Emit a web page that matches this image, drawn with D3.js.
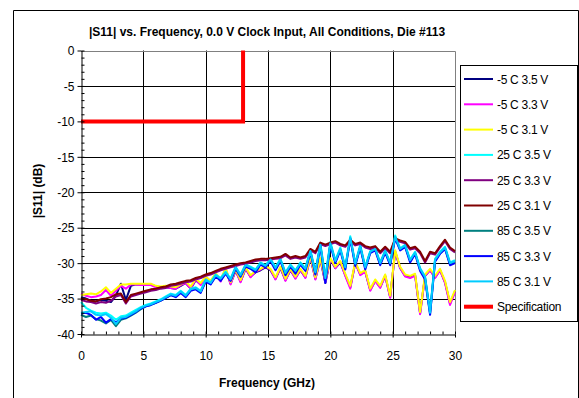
<!DOCTYPE html>
<html>
<head>
<meta charset="utf-8">
<script src="https://cdn.jsdelivr.net/npm/d3@7"></script>
<style>
  body { margin: 0; background: #fff; }
  svg { font-family: "Liberation Sans", Arial, sans-serif; }
  .axis path, .axis line { stroke: #000; }
  .axis text { font-size: 12px; fill: #000; }
</style>
</head>
<body>
<svg id="chart" width="579" height="398"></svg>
<script>
// frequency grid (GHz), 0.4 GHz step
const freqs = d3.range(76).map(i => +(i * 0.4).toFixed(1));

const seriesNames = ["-5 C 3.5 V", "-5 C 3.3 V", "-5 C 3.1 V", "25 C 3.5 V", "25 C 3.3 V",
                     "25 C 3.1 V", "85 C 3.5 V", "85 C 3.3 V", "85 C 3.1 V"];
const seriesColors = ["#000080", "#ff00ff", "#ffff00", "#00ffff", "#800080",
                      "#800000", "#008080", "#0000ff", "#00ccff"];

const m5c35 = [-34.8,-35.0,-35.3,-35.4,-35.2,-35.3,-35.5,-34.6,-32.9,-35.2,-33.2,-33.0,-33.0,-33.0,-33.0,-33.3,-33.4,-33.4,-33.5,-33.6,
  -33.2,-32.8,-33.6,-32.4,-33.0,-32.1,-32.7,-31.6,-32.5,-30.9,-32.9,-31.1,-32.6,-30.8,-31.9,-31.3,-31.0,-30.6,-31.0,-32.2,
  -30.7,-32.4,-31.0,-32.1,-31.0,-32.0,-29.2,-32.2,-29.5,-32.8,-29.5,-30.7,-29.9,-31.7,-33.4,-30.0,-31.6,-31.2,-33.8,-32.5,
  -33.4,-31.8,-34.8,-28.4,-30.7,-31.8,-32.0,-31.7,-37.1,-31.8,-31.0,-32.0,-31.0,-32.7,-35.7,-34.0];
const m5c33 = [-34.3,-34.6,-34.8,-34.7,-34.5,-33.8,-34.6,-33.9,-33.2,-33.6,-33.0,-33.0,-33.1,-33.1,-33.1,-33.4,-33.5,-33.4,-33.5,-33.6,
  -33.1,-32.8,-33.6,-32.3,-33.1,-32.0,-32.8,-31.5,-32.6,-30.8,-33.0,-31.0,-32.7,-30.7,-32.0,-31.2,-30.9,-30.5,-30.9,-32.3,
  -30.6,-32.5,-30.9,-32.2,-30.9,-32.1,-29.1,-32.3,-29.4,-32.7,-29.4,-30.7,-29.8,-31.8,-33.6,-29.9,-31.7,-31.2,-33.9,-32.5,
  -33.5,-31.8,-34.9,-28.3,-30.7,-31.9,-32.1,-31.8,-37.2,-31.8,-31.0,-32.1,-31.0,-32.8,-35.9,-34.1];
const m5c31 = [-34.5,-34.4,-34.3,-34.4,-34.0,-33.4,-34.2,-33.6,-33.0,-33.0,-32.9,-32.9,-32.9,-32.9,-32.9,-33.2,-33.3,-33.2,-33.3,-33.4,
  -33.0,-32.6,-33.3,-32.2,-32.8,-31.9,-32.5,-31.4,-32.3,-30.7,-32.7,-30.9,-32.4,-30.6,-31.7,-31.1,-30.8,-30.4,-30.8,-32.0,
  -30.5,-32.2,-30.8,-31.9,-30.8,-31.8,-29.0,-32.0,-29.3,-32.4,-29.3,-30.5,-29.7,-31.5,-33.2,-29.8,-31.4,-31.0,-33.6,-32.3,
  -33.2,-31.6,-34.6,-28.2,-30.5,-31.6,-31.8,-31.5,-36.9,-31.6,-30.8,-31.8,-30.8,-32.5,-35.5,-33.8];
const c25v35 = [-35.5,-36.3,-36.7,-37.0,-37.1,-37.0,-37.4,-38.0,-37.5,-37.4,-37.0,-36.6,-36.2,-35.9,-35.7,-35.4,-35.1,-34.7,-34.3,-34.5,
  -33.9,-34.5,-33.6,-33.4,-33.9,-32.3,-32.7,-31.6,-32.1,-31.2,-32.2,-30.5,-31.6,-30.2,-30.5,-30.9,-29.9,-30.3,-29.4,-30.6,
  -29.4,-31.3,-30.2,-31.0,-29.9,-30.7,-28.1,-31.2,-27.2,-32.0,-27.0,-29.6,-27.8,-30.5,-26.2,-30.0,-27.4,-30.5,-28.3,-27.9,
  -29.9,-28.2,-29.9,-26.1,-27.9,-27.4,-29.5,-28.4,-30.7,-31.9,-36.8,-29.4,-28.4,-27.7,-29.9,-29.6];
const c25v33 = [-35.2,-35.4,-35.5,-35.7,-35.5,-35.6,-35.3,-34.7,-34.5,-35.7,-34.7,-34.5,-34.3,-34.1,-33.9,-33.8,-33.6,-33.5,-33.2,-33.1,
  -32.9,-32.7,-32.6,-32.3,-32.1,-31.8,-31.6,-31.3,-31.0,-30.8,-30.6,-30.4,-30.2,-30.1,-29.9,-29.7,-29.6,-29.6,-29.5,-29.4,
  -29.3,-28.9,-29.4,-29.2,-29.4,-29.2,-28.2,-28.6,-27.3,-27.6,-27.3,-27.1,-27.5,-27.7,-26.9,-27.5,-27.3,-27.8,-28.0,-27.8,
  -28.6,-27.9,-28.6,-26.7,-27.0,-27.2,-28.1,-27.9,-28.6,-29.9,-28.6,-28.8,-27.8,-26.9,-28.0,-28.5];
const c25v31 = [-35.0,-35.1,-35.3,-35.4,-35.1,-35.0,-34.8,-34.4,-34.3,-35.5,-34.5,-34.3,-34.1,-33.9,-33.7,-33.6,-33.4,-33.3,-33.0,-32.9,
  -32.7,-32.5,-32.4,-32.1,-31.9,-31.6,-31.4,-31.1,-30.8,-30.6,-30.4,-30.2,-30.0,-29.9,-29.7,-29.5,-29.4,-29.4,-29.3,-29.2,
  -29.1,-28.7,-29.2,-29.0,-29.2,-29.0,-28.0,-28.4,-27.1,-27.4,-27.1,-26.9,-27.3,-27.5,-26.7,-27.3,-27.1,-27.6,-27.8,-27.6,
  -28.4,-27.7,-28.4,-26.5,-26.8,-27.0,-27.9,-27.7,-28.4,-29.7,-28.4,-28.6,-27.6,-26.7,-27.8,-28.3];
const c85v35 = [-37.3,-37.6,-37.4,-37.9,-38.1,-38.5,-38.0,-38.9,-38.0,-37.8,-37.4,-37.0,-36.5,-36.1,-35.9,-35.6,-35.3,-34.9,-34.5,-34.7,
  -34.1,-34.7,-33.8,-33.6,-34.1,-32.5,-32.9,-31.8,-32.3,-31.4,-32.4,-30.7,-31.8,-30.4,-30.7,-31.1,-30.1,-30.5,-29.6,-30.8,
  -29.6,-31.5,-30.4,-31.2,-30.1,-30.9,-28.4,-31.4,-27.5,-32.3,-27.3,-29.8,-28.1,-30.7,-26.5,-30.2,-27.7,-30.7,-28.5,-28.1,
  -30.1,-28.4,-30.1,-26.4,-28.1,-27.6,-29.7,-28.6,-30.9,-32.1,-37.1,-29.6,-28.6,-27.9,-30.1,-29.8];
const c85v33 = [-37.1,-37.0,-37.3,-38.0,-37.6,-38.4,-37.9,-38.4,-37.8,-37.7,-37.3,-36.9,-36.4,-36.1,-35.9,-35.6,-35.3,-34.9,-34.5,-34.8,
  -34.2,-34.8,-33.9,-33.7,-34.2,-32.6,-33.0,-31.9,-32.5,-31.5,-32.5,-30.8,-31.9,-30.5,-30.8,-31.3,-30.2,-30.6,-29.7,-31.0,
  -29.7,-31.7,-30.5,-31.5,-30.2,-31.1,-28.5,-31.6,-27.6,-32.8,-27.4,-30.0,-28.2,-30.9,-26.6,-30.4,-27.8,-30.9,-28.6,-28.2,
  -30.3,-28.5,-30.3,-26.5,-28.2,-27.7,-29.9,-28.7,-31.1,-32.3,-37.3,-29.8,-28.7,-28.0,-30.3,-30.0];
const c85v31 = [-37.0,-36.9,-36.8,-37.3,-37.4,-37.2,-37.7,-38.6,-37.7,-37.6,-37.2,-36.8,-36.3,-36.0,-35.8,-35.5,-35.2,-34.8,-34.4,-34.6,
  -34.0,-34.6,-33.7,-33.5,-34.0,-32.4,-32.8,-31.7,-32.2,-31.3,-32.3,-30.6,-31.7,-30.3,-30.6,-31.0,-30.0,-30.4,-29.5,-30.7,
  -29.5,-31.4,-30.3,-31.1,-30.0,-30.8,-28.3,-31.3,-27.4,-32.1,-27.2,-29.7,-28.0,-30.6,-26.4,-30.1,-27.6,-30.6,-28.4,-28.0,
  -30.0,-28.3,-30.0,-26.3,-28.0,-27.5,-29.6,-28.5,-30.8,-32.0,-37.0,-29.5,-28.5,-27.8,-30.0,-29.7];

const seriesValues = [m5c35, m5c33, m5c31, c25v35, c25v33, c25v31, c85v35, c85v33, c85v31];

// specification mask
const specFreq = [0, 13, 13];
const specDb = [-10, -10, 0];

const xTicks = [0, 5, 10, 15, 20, 25, 30];
const yTicks = [0, -5, -10, -15, -20, -25, -30, -35, -40];

const svg = d3.select("#chart");

// outer chart border
svg.append("path")
  .attr("d", "M13.5,400 V10.5 H578.5 V400")
  .attr("fill", "none").attr("stroke", "#000").attr("stroke-width", 1);

const x = d3.scaleLinear().domain([0, 30]).range([81, 455]);
const y = d3.scaleLinear().domain([-40, 0]).range([334, 50.5]);

// gridlines
const grid = svg.append("g");
grid.selectAll(".gx").data(xTicks.slice(1, -1)).join("line")
  .attr("x1", d => Math.round(x(d)) + 0.5).attr("x2", d => Math.round(x(d)) + 0.5)
  .attr("y1", y(0)).attr("y2", y(-40)).attr("stroke", "#000");
grid.selectAll(".gy").data(yTicks.slice(1, -1)).join("line")
  .attr("y1", d => Math.round(y(d)) + 0.5).attr("y2", d => Math.round(y(d)) + 0.5)
  .attr("x1", x(0)).attr("x2", x(30)).attr("stroke", "#000");
// plot area frame (top / right)
svg.append("path")
  .attr("d", `M${x(0)},${Math.round(y(0)) + 0.5} H${Math.round(x(30)) + 0.5} V${y(-40)}`)
  .attr("fill", "none").attr("stroke", "#808080");

// data lines
const line = d3.line().x((d, i) => x(freqs[i])).y(d => y(d));
svg.append("g").selectAll("path").data(seriesValues).join("path")
  .attr("d", d => line(d))
  .attr("fill", "none")
  .attr("stroke", (d, i) => seriesColors[i])
  .attr("stroke-width", 2)
  .attr("stroke-linejoin", "round");

// specification
svg.append("path")
  .attr("d", d3.line().x(d => x(d[0])).y(d => y(d[1]))(specFreq.map((f, i) => [f, specDb[i]])))
  .attr("fill", "none").attr("stroke", "#ff0000").attr("stroke-width", 4);

// axes
const minorX = d3.range(0, 31).filter(v => v % 5 !== 0);
const minorY = d3.range(-40, 1).filter(v => v % 5 !== 0);
const yAxisX = Math.round(x(0)) + 0.5;
const xAxisY = Math.round(y(-40)) + 0.5;

svg.append("g").attr("class", "axis").attr("transform", `translate(${yAxisX},0)`)
  .call(d3.axisLeft(y).tickValues(yTicks).tickSize(4).tickSizeOuter(0).tickPadding(3)
    .tickFormat(d => String(d)))
  .call(g => g.selectAll("text").attr("dy", "0.35em"));
svg.append("g").attr("class", "axis").attr("transform", `translate(${yAxisX},0)`)
  .call(d3.axisRight(y).tickValues(yTicks).tickSize(3).tickSizeOuter(0).tickFormat(""))
  .call(g => g.select(".domain").remove());
svg.append("g").attr("class", "axis").attr("transform", `translate(${yAxisX},0)`)
  .call(d3.axisRight(y).tickValues(minorY).tickSize(3).tickSizeOuter(0).tickFormat(""))
  .call(g => g.select(".domain").remove());

svg.append("g").attr("class", "axis").attr("transform", `translate(0,${xAxisY})`)
  .call(d3.axisBottom(x).tickValues(xTicks).tickSize(3).tickSizeOuter(0).tickPadding(14)
    .tickFormat(d => String(d)));
svg.append("g").attr("class", "axis").attr("transform", `translate(0,${xAxisY})`)
  .call(d3.axisTop(x).tickValues(xTicks).tickSize(3).tickSizeOuter(0).tickFormat(""))
  .call(g => g.select(".domain").remove());
svg.append("g").attr("class", "axis").attr("transform", `translate(0,${xAxisY})`)
  .call(d3.axisTop(x).tickValues(minorX).tickSize(3).tickSizeOuter(0).tickFormat(""))
  .call(g => g.select(".domain").remove());

// titles
svg.append("text").attr("x", 267).attr("y", 36).attr("text-anchor", "middle")
  .attr("font-size", 12).attr("font-weight", "bold")
  .text("|S11| vs. Frequency, 0.0 V Clock Input, All Conditions, Die #113");
svg.append("text").attr("x", 267).attr("y", 387).attr("text-anchor", "middle")
  .attr("font-size", 12).attr("font-weight", "bold").text("Frequency (GHz)");
svg.append("text").attr("transform", "translate(42,191) rotate(-90)").attr("text-anchor", "middle")
  .attr("font-size", 12).attr("font-weight", "bold").text("|S11| (dB)");

// legend
const legend = svg.append("g");
legend.append("rect").attr("x", 460.5).attr("y", 65.5).attr("width", 117).attr("height", 256)
  .attr("fill", "#fff").attr("stroke", "#000");
const legendItems = seriesNames.map((n, i) => ({ name: n, color: seriesColors[i], w: 2 }))
  .concat([{ name: "Specification", color: "#ff0000", w: 4 }]);
const items = legend.selectAll(".li").data(legendItems).join("g")
  .attr("transform", (d, i) => `translate(0,${79 + i * 25.3})`);
items.append("line").attr("x1", 464).attr("x2", 493)
  .attr("stroke", d => d.color).attr("stroke-width", d => d.w);
items.append("text").attr("x", 497).attr("y", 4.5).attr("font-size", 12)
  .attr("letter-spacing", "-0.3").text(d => d.name);
</script>
</body>
</html>
